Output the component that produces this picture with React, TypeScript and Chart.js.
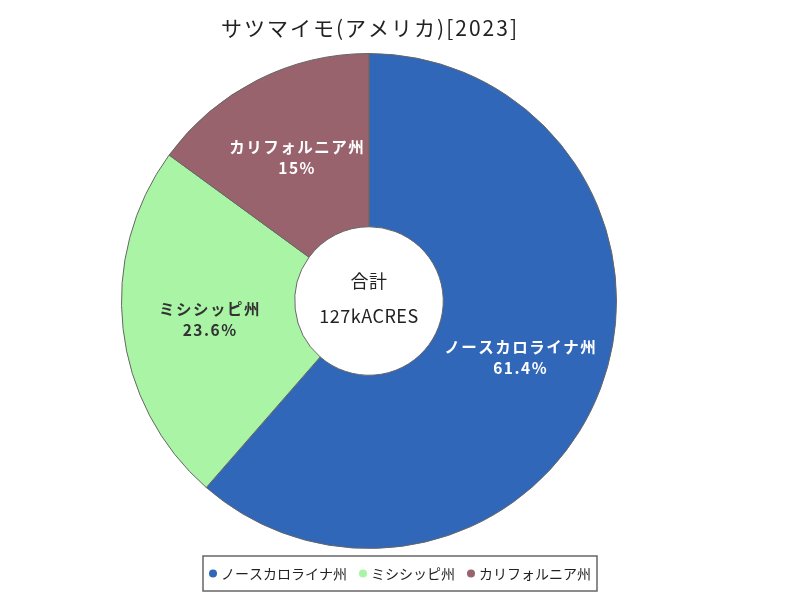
import React, { useEffect, useRef } from "react";
import { Chart, registerables } from "chart.js";

Chart.register(...registerables);

const titleText = "サツマイモ(アメリカ)[2023]";
const categories = ["ノースカロライナ州", "ミシシッピ州", "カリフォルニア州"];
const values = [78, 30, 19];
const sliceColors = ["#3167b8", "#aaf5a5", "#98636d"];
const labelColors = ["#ffffff", "#333333", "#ffffff"];
const centerTitle = "合計";
const unitLabel = "kACRES";

const FONT = "'Noto Sans CJK JP', 'Noto Sans', sans-serif";

const total = values.reduce((a, b) => a + b, 0);
const pct = (v: number) => Number(((v / total) * 100).toFixed(1)).toString() + "%";

const titlePlugin = {
  id: "spacedTitle",
  afterDraw(chart: any) {
    const ctx = chart.ctx;
    ctx.save();
    (ctx as any).letterSpacing = "2px";
    ctx.font = `21px ${FONT}`;
    ctx.fillStyle = "#222222";
    ctx.textAlign = "center";
    ctx.textBaseline = "middle";
    const cx = (chart.chartArea.left + chart.chartArea.right) / 2;
    ctx.fillText(titleText, cx + 1, 28);
    ctx.restore();
  },
};

const labelPlugin = {
  id: "sliceLabels",
  afterDatasetsDraw(chart: any) {
    const ctx = chart.ctx;
    const meta = chart.getDatasetMeta(0);
    ctx.save();
    meta.data.forEach((arc: any, i: number) => {
      const p = arc.getProps(["startAngle", "endAngle", "innerRadius", "outerRadius", "x", "y"], true);
      const a = (p.startAngle + p.endAngle) / 2;
      const r = (p.innerRadius + p.outerRadius) / 2;
      const x = p.x + Math.cos(a) * r;
      const y = p.y + Math.sin(a) * r;
      ctx.fillStyle = labelColors[i];
      (ctx as any).letterSpacing = "1.5px";
      ctx.font = `bold 15.5px ${FONT}`;
      ctx.textAlign = "center";
      ctx.textBaseline = "middle";
      ctx.fillText(categories[i], x + 1, y - 10);
      ctx.fillText(pct(values[i]), x + 1, y + 11);
    });
    const arc0 = meta.data[0];
    if (arc0) {
      (ctx as any).letterSpacing = "0.5px";
      ctx.fillStyle = "#222222";
      ctx.font = `18px ${FONT}`;
      ctx.textAlign = "center";
      ctx.textBaseline = "middle";
      ctx.fillText(centerTitle, arc0.x, arc0.y - 20);
      ctx.fillText(String(total) + unitLabel, arc0.x, arc0.y + 15);
    }
    ctx.restore();
  },
};

const legendPlugin = {
  id: "boxLegend",
  afterDraw(chart: any) {
    const ctx = chart.ctx;
    ctx.save();
    ctx.font = `14px ${FONT}`;
    const dot = 4;
    const gapDotText = 4;
    const gapItems = 12;
    const widths = categories.map((c) => ctx.measureText(c).width);
    let content = 0;
    widths.forEach((w, i) => {
      content += dot * 2 + gapDotText + w + (i < widths.length - 1 ? gapItems : 0);
    });
    const cx = chart.width / 2;
    const padX = 6;
    const boxW = content + padX * 2;
    const boxH = 35;
    const boxTop = 556;
    const boxLeft = cx - boxW / 2;
    ctx.strokeStyle = "#666666";
    ctx.lineWidth = 1.5;
    ctx.strokeRect(boxLeft, boxTop, boxW, boxH);
    const cy = boxTop + boxH / 2;
    let x = boxLeft + padX;
    categories.forEach((c, i) => {
      ctx.beginPath();
      ctx.fillStyle = sliceColors[i];
      ctx.arc(x + dot, cy, dot, 0, Math.PI * 2);
      ctx.fill();
      x += dot * 2 + gapDotText;
      ctx.fillStyle = "#222222";
      ctx.textAlign = "left";
      ctx.textBaseline = "middle";
      ctx.fillText(c, x, cy);
      x += widths[i] + gapItems;
    });
    ctx.restore();
  },
};

export default function App() {
  const ref = useRef<HTMLCanvasElement | null>(null);
  useEffect(() => {
    if (!ref.current) return;
    Chart.defaults.font.family = FONT;
    const chart = new Chart(ref.current, {
      type: "doughnut",
      data: {
        labels: categories,
        datasets: [
          {
            data: values,
            backgroundColor: sliceColors,
            borderColor: "#666666",
            borderWidth: 1,
          },
        ],
      },
      options: {
        responsive: false,
        animation: false,
        cutout: "30%",
        layout: { padding: { top: 53, bottom: 51, left: 0, right: 62 } },
        plugins: {
          legend: { display: false },
          tooltip: { enabled: false },
          title: { display: false },
        },
      },
      plugins: [titlePlugin, labelPlugin, legendPlugin],
    });
    return () => chart.destroy();
  }, []);
  return (
    <div style={{ position: "absolute", left: 0, top: 0, width: 800, height: 600, background: "#ffffff" }}>
      <canvas ref={ref} width={800} height={600} />
    </div>
  );
}
